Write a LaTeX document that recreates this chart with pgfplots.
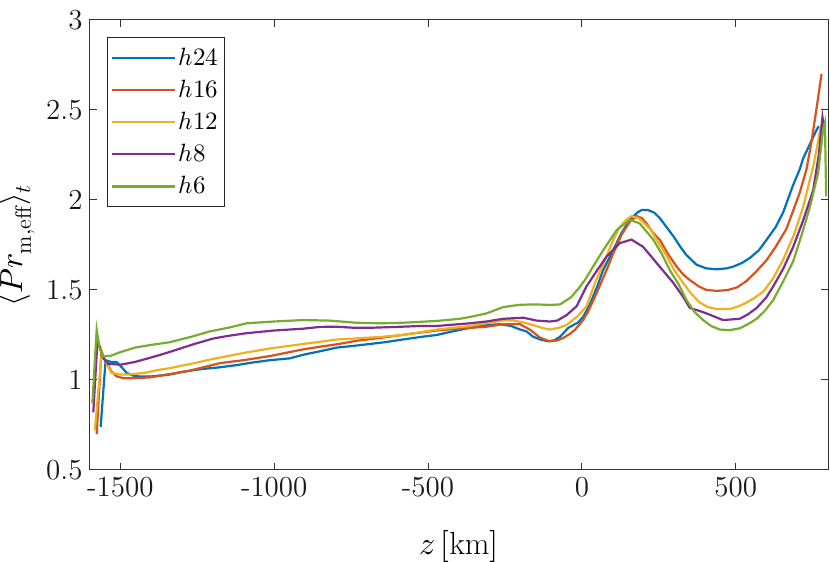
\documentclass[border=0pt]{standalone}
\usepackage{fontspec}
\usepackage{unicode-math}
\usepackage{pgfplots}
\pgfplotsset{compat=1.18}
\definecolor{mb}{rgb}{0,0.447,0.741}
\definecolor{mo}{rgb}{0.85,0.325,0.098}
\definecolor{my}{rgb}{0.929,0.694,0.125}
\definecolor{mp}{rgb}{0.494,0.184,0.556}
\definecolor{mg}{rgb}{0.466,0.674,0.188}
\begin{document}
\begin{tikzpicture}
\begin{axis}[
  scale only axis,
  width=369.2pt, height=225pt,
  xmin=-1600, xmax=800, ymin=0.5, ymax=3,
  xtick={-1500,-1000,-500,0,500},
  xticklabels={-1500,-1000,-500,0,500},
  ytick={0.5,1,1.5,2,2.5,3},
  yticklabels={0.5,1,1.5,2,2.5,3},
  tick align=inside,
  major tick length=3.5pt,
  axis line style={black!80, line width=0.5pt},
  every tick/.style={black!80, line width=0.5pt},
  tick label style={font=\fontsize{14.5}{17}\selectfont, black!90},
  label style={font=\fontsize{16}{19}\selectfont},
  xlabel={$z\,[\mathrm{km}]$},
  ylabel={$\langle Pr_{\mathrm{m,eff}}\rangle_t$},
  xlabel style={at={(axis description cs:0.5,-0.169)}, anchor=center},
  ylabel style={at={(axis description cs:-0.0983,0.5)}, anchor=center, rotate=0},
  legend cell align=left,
  legend image code/.code={\draw[#1, line width=1.1pt] (0pt,0pt) -- (31.5pt,0pt);},
  legend style={at={(0.0236,0.962)}, anchor=north west,
    font=\fontsize{12.5}{15}\selectfont, draw=black!85,
    inner xsep=1.5pt, inner ysep=3.6pt, row sep=2.9pt,
    nodes={inner sep=1.5pt}},
  every axis plot/.append style={line width=1.1pt},
]
\coordinate (sw) at (rel axis cs:0,0);
\coordinate (ne) at (rel axis cs:1,1);
\addplot[mb] coordinates {
(-1564,0.74) (-1548,1.11) (-1530,1.10) (-1512,1.10) (-1495,1.07) (-1480,1.04)
(-1460,1.025) (-1440,1.02) (-1400,1.02) (-1340,1.03) (-1300,1.045) (-1240,1.06)
(-1180,1.07) (-1120,1.083) (-1079,1.095) (-1014,1.11) (-950,1.12) (-906,1.14)
(-850,1.16) (-797,1.18) (-740,1.19) (-689,1.20) (-640,1.21) (-582,1.225)
(-520,1.24) (-472,1.25) (-420,1.27) (-364,1.29) (-310,1.305) (-266,1.31)
(-230,1.30) (-200,1.28) (-180,1.27) (-158,1.24) (-135,1.225) (-110,1.215)
(-90,1.22) (-71,1.24) (-44,1.29) (-12,1.32) (4,1.35) (26,1.42) (50,1.52)
(69,1.61) (101,1.72) (130,1.82) (156,1.89) (180,1.93) (194,1.944) (215,1.944)
(235,1.93) (253,1.90) (275,1.85) (297,1.80) (320,1.74) (340,1.694) (373,1.64)
(405,1.62) (438,1.615) (470,1.62) (492,1.63) (520,1.65) (546,1.678) (575,1.72)
(600,1.778) (630,1.85) (654,1.93) (686,2.08) (708,2.17) (719,2.23) (741,2.31)
(763,2.39) (770,2.41)
};
\addlegendentry{$h24$\hspace{5.5pt}}
\addplot[mo] coordinates {
(-1577,0.70) (-1562,1.15) (-1545,1.10) (-1530,1.05) (-1512,1.02) (-1490,1.01)
(-1453,1.01) (-1400,1.015) (-1339,1.033) (-1280,1.05) (-1220,1.075) (-1176,1.094)
(-1100,1.11) (-1014,1.133) (-950,1.155) (-906,1.17) (-851,1.185) (-790,1.20)
(-732,1.218) (-650,1.235) (-559,1.256) (-472,1.275) (-400,1.285) (-310,1.296)
(-256,1.31) (-201,1.31) (-169,1.28) (-136,1.235) (-104,1.215) (-80,1.22)
(-61,1.233) (-40,1.255) (-23,1.278) (4,1.333) (20,1.38) (42,1.46) (65,1.55)
(85,1.63) (101,1.70) (130,1.81) (156,1.88) (178,1.91) (195,1.90) (210,1.87)
(230,1.82) (253,1.78) (280,1.70) (308,1.63) (330,1.585) (351,1.555) (380,1.52)
(405,1.50) (440,1.495) (475,1.50) (505,1.515) (535,1.55) (565,1.60) (600,1.665)
(630,1.74) (665,1.84) (708,2.04) (730,2.17) (745,2.31) (762,2.50) (779,2.70)
};
\addlegendentry{$h16$}
\addplot[my] coordinates {
(-1583,0.72) (-1560,1.16) (-1545,1.09) (-1529,1.04) (-1500,1.03) (-1475,1.03)
(-1420,1.04) (-1380,1.055) (-1339,1.066) (-1270,1.09) (-1199,1.117) (-1100,1.15)
(-1014,1.175) (-906,1.20) (-797,1.225) (-743,1.23) (-650,1.24) (-582,1.25)
(-472,1.28) (-364,1.30) (-310,1.316) (-256,1.33) (-223,1.33) (-190,1.32)
(-158,1.305) (-130,1.29) (-104,1.28) (-75,1.29) (-50,1.305) (-17,1.35)
(0,1.38) (15,1.41) (26,1.46) (45,1.55) (69,1.64) (100,1.77) (123,1.85)
(145,1.89) (161,1.91) (183,1.90) (200,1.875) (221,1.84) (250,1.76) (275,1.69)
(300,1.61) (329,1.54) (355,1.48) (383,1.43) (410,1.405) (438,1.394) (481,1.394)
(510,1.41) (535,1.43) (560,1.455) (589,1.49) (620,1.56) (654,1.667) (690,1.81)
(719,1.96) (751,2.18) (765,2.30) (778,2.42)
};
\addlegendentry{$h12$}
\addplot[mp] coordinates {
(-1588,0.82) (-1574,1.23) (-1565,1.17) (-1555,1.12) (-1540,1.09) (-1500,1.085)
(-1453,1.10) (-1400,1.125) (-1360,1.145) (-1323,1.165) (-1260,1.20) (-1199,1.23)
(-1150,1.245) (-1090,1.26) (-1000,1.275) (-906,1.285) (-851,1.295) (-797,1.296)
(-740,1.29) (-689,1.29) (-600,1.295) (-526,1.30) (-472,1.30) (-400,1.31)
(-364,1.315) (-310,1.325) (-256,1.34) (-190,1.346) (-147,1.33) (-104,1.325)
(-80,1.33) (-50,1.36) (-17,1.41) (15,1.52) (50,1.61) (80,1.685) (123,1.76)
(161,1.78) (199,1.74) (243,1.65) (297,1.54) (330,1.46) (351,1.40) (380,1.385)
(405,1.37) (459,1.333) (513,1.34) (540,1.365) (568,1.40) (600,1.46) (622,1.52)
(655,1.62) (687,1.74) (720,1.89) (752,2.056) (770,2.25) (782,2.46) (787,2.40)
};
\addlegendentry{$h8$}
\addplot[mg] coordinates {
(-1591,0.87) (-1577,1.28) (-1568,1.18) (-1556,1.13) (-1530,1.135) (-1508,1.15)
(-1453,1.18) (-1400,1.195) (-1339,1.21) (-1270,1.24) (-1209,1.27) (-1150,1.29)
(-1090,1.315) (-1000,1.325) (-906,1.333) (-820,1.33) (-732,1.318) (-650,1.315)
(-582,1.318) (-472,1.328) (-397,1.34) (-364,1.35) (-310,1.37) (-256,1.405)
(-201,1.418) (-150,1.42) (-104,1.417) (-71,1.42) (-35,1.46) (-10,1.51)
(10,1.556) (40,1.64) (69,1.72) (113,1.833) (156,1.89) (188,1.87) (232,1.78)
(260,1.70) (286,1.61) (315,1.53) (340,1.444) (365,1.38) (394,1.333) (420,1.30)
(449,1.28) (480,1.277) (513,1.287) (540,1.31) (568,1.34) (595,1.385) (622,1.444)
(655,1.55) (687,1.66) (715,1.81) (741,1.96) (768,2.15) (784,2.39) (790,2.43)
(794,2.02)
};
\addlegendentry{$h6$}
\end{axis}
\pgfresetboundingbox
\path ([shift={(-44.8pt,-45.75pt)}]sw) rectangle ([shift={(1pt,10pt)}]ne);
\end{tikzpicture}
\end{document}
